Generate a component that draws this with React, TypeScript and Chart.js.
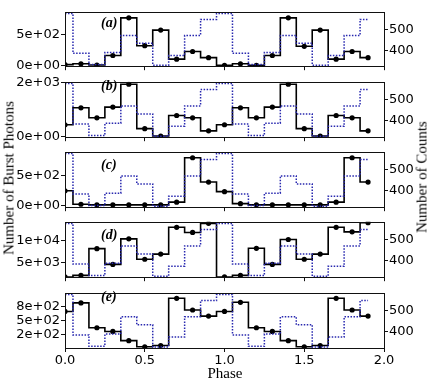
import React, { useEffect, useRef } from "react";
import { Chart, registerables } from "chart.js";
Chart.register(...registerables);

// ---------- data ----------
const phases = [0.0, 0.1, 0.2, 0.3, 0.4, 0.5, 0.6, 0.7, 0.8, 0.9, 1.0, 1.1, 1.2, 1.3, 1.4, 1.5, 1.6, 1.7, 1.8, 1.9];

// Number of counts (blue dotted, right axis) - same profile in every panel
const countsProfile = [577, 385, 331, 389, 471, 433, 328, 375, 471, 548, 577, 385, 331, 389, 471, 433, 328, 375, 471, 548];

// Number of burst photons (black, left axis)
const photonsA = [10, 25, 5, 160, 775, 320, 575, 100, 225, 125, 0, 25, 0, 160, 775, 310, 575, 100, 225, 125];
const photonsB = [450, 1075, 705, 1100, 1945, 305, 35, 790, 705, 225, 450, 1075, 705, 1100, 1945, 305, 35, 790, 705, 225];
const photonsC = [240, 15, 5, 5, 5, 5, 5, 50, 790, 385, 225, 25, 5, 5, 5, 5, 5, 50, 790, 385];
const photonsD = [1790, 2150, 8250, 4650, 10480, 5830, 7000, 13120, 11940, 14020, 1790, 2150, 8330, 4650, 10340, 5830, 7000, 13120, 12080, 14160];
const photonsE = [667, 822, 372, 305, 138, 27, 50, 905, 693, 583, 667, 833, 372, 305, 138, 27, 50, 905, 693, 583];

const panelLabels = ["(a)", "(b)", "(c)", "(d)", "(e)"];

const leftTickValuesA = [0, 500];
const leftTickLabelsA = ["0e+00", "5e+02"];
const leftTickValuesB = [0, 2000];
const leftTickLabelsB = ["0e+00", "2e+03"];
const leftTickValuesC = [0, 500];
const leftTickLabelsC = ["0e+00", "5e+02"];
const leftTickValuesD = [5000, 10000];
const leftTickLabelsD = ["5e+03", "1e+04"];
const leftTickValuesE = [250, 500, 750];
const leftTickLabelsE = ["2e+02", "5e+02", "8e+02"];

const leftMin = [-15, -10, -34, 1730, 5];
const leftMax = [874, 2034, 889, 14375, 1005];

const rightTickValues = [400, 500];
const rightTickLabels = ["400", "500"];
const rightMin = 323;
const rightMax = 585;

const xTickValues = [0, 0.5, 1.0, 1.5, 2.0];
const xTickLabels = ["0.0", "0.5", "1.0", "1.5", "2.0"];

const photonSeries = [photonsA, photonsB, photonsC, photonsD, photonsE];
const leftTickValues = [leftTickValuesA, leftTickValuesB, leftTickValuesC, leftTickValuesD, leftTickValuesE];
const leftTickLabels = [leftTickLabelsA, leftTickLabelsB, leftTickLabelsC, leftTickLabelsD, leftTickLabelsE];

// ---------- layout ----------
const W = 436;
const PLOT_LEFT = 65;
const PLOT_RIGHT = 384;
const PANEL_TOPS = [7, 77, 147, 217, 288];
const PANEL_HEIGHTS = [60, 61, 61, 61, 60];
const PAD_TOP = 4;
const BLUE = "rgb(40,40,175)";
const TICK_FONT = { family: "'DejaVu Sans', sans-serif", size: 13 };
const SERIF = "'Liberation Serif', 'DejaVu Serif', serif";

const framePlugin = {
  id: "frame",
  afterDraw(chart: any) {
    const { ctx, chartArea } = chart;
    ctx.save();
    ctx.strokeStyle = "#111";
    ctx.lineWidth = 1;
    ctx.strokeRect(
      Math.round(chartArea.left) + 0.5,
      Math.round(chartArea.top) + 0.5,
      Math.round(chartArea.right - chartArea.left),
      Math.round(chartArea.bottom - chartArea.top)
    );
    ctx.restore();
  },
};

function Panel({ idx }: { idx: number }) {
  const ref = useRef<HTMLCanvasElement>(null);
  const isLast = idx === 4;
  const xAxisH = isLast ? 40 : 8;
  const canvasH = PAD_TOP + PANEL_HEIGHTS[idx] + xAxisH;
  const canvasTop = PANEL_TOPS[idx] - PAD_TOP;

  useEffect(() => {
    if (!ref.current) return;
    const lv = leftTickValues[idx];
    const ll = leftTickLabels[idx];
    const series = photonSeries[idx];
    const chart = new Chart(ref.current, {
      type: "line",
      data: {
        datasets: [
          {
            data: phases.map((x, i) => ({ x, y: countsProfile[i] })),
            yAxisID: "y1",
            stepped: "middle",
            borderColor: BLUE,
            borderWidth: 1.5,
            borderDash: [1.5, 1.5],
            pointRadius: 0,
            fill: false,
          },
          {
            data: phases.map((x, i) => ({ x, y: series[i] })),
            yAxisID: "y",
            stepped: "middle",
            borderColor: "#000",
            borderWidth: 1.6,
            pointRadius: 2.6,
            pointBackgroundColor: "#000",
            pointBorderColor: "#000",
            pointBorderWidth: 0,
            fill: false,
          },
        ],
      } as any,
      options: {
        animation: false,
        responsive: false,
        maintainAspectRatio: false,
        devicePixelRatio: 1,
        layout: { padding: { top: PAD_TOP, left: 0, right: 0, bottom: 0 } },
        plugins: { legend: { display: false }, tooltip: { enabled: false } },
        scales: {
          x: {
            type: "linear",
            position: "bottom",
            min: 0,
            max: 2,
            afterBuildTicks: (s: any) => {
              s.ticks = xTickValues.map((v) => ({ value: v }));
            },
            afterFit: (s: any) => {
              s.height = xAxisH;
            },
            grid: { drawOnChartArea: false, drawTicks: true, tickLength: 4, tickColor: "#111", tickWidth: 1 },
            border: { display: false },
            ticks: {
              display: isLast,
              font: TICK_FONT,
              color: "#000",
              padding: 1,
              maxRotation: 0,
              autoSkip: false,
              callback: (v: any) => xTickLabels[xTickValues.indexOf(Number(v))] ?? "",
            },
          },
          y: {
            type: "linear",
            position: "left",
            min: leftMin[idx],
            max: leftMax[idx],
            afterBuildTicks: (s: any) => {
              s.ticks = lv.map((v) => ({ value: v }));
            },
            afterFit: (s: any) => {
              s.width = PLOT_LEFT;
            },
            grid: { drawOnChartArea: false, drawTicks: true, tickLength: 4, tickColor: "#111", tickWidth: 1 },
            border: { display: false },
            ticks: {
              font: TICK_FONT,
              color: "#000",
              padding: 1,
              autoSkip: false,
              callback: (v: any) => ll[lv.indexOf(Number(v))] ?? "",
            },
          },
          y1: {
            type: "linear",
            position: "right",
            min: rightMin,
            max: rightMax,
            afterBuildTicks: (s: any) => {
              s.ticks = rightTickValues.map((v) => ({ value: v }));
            },
            afterFit: (s: any) => {
              s.width = W - PLOT_RIGHT;
            },
            grid: { drawOnChartArea: false, drawTicks: true, tickLength: 4, tickColor: "#111", tickWidth: 1 },
            border: { display: false },
            ticks: {
              font: TICK_FONT,
              color: "#000",
              padding: 1,
              autoSkip: false,
              callback: (v: any) => rightTickLabels[rightTickValues.indexOf(Number(v))] ?? "",
            },
          },
        },
      } as any,
      plugins: [framePlugin],
    });
    return () => chart.destroy();
  }, [idx]);

  return (
    <canvas
      ref={ref}
      width={W}
      height={canvasH}
      style={{ position: "absolute", left: 0, top: canvasTop, width: W, height: canvasH }}
    />
  );
}

const panelLabelY = [23, 86, 165, 235, 297];

export default function App() {
  return (
    <div style={{ position: "absolute", left: 0, top: 0, width: W, height: 388, background: "#fff", overflow: "hidden" }}>
      {[0, 1, 2, 3, 4].map((i) => (
        <Panel key={i} idx={i} />
      ))}
      {panelLabels.map((t, i) => (
        <div
          key={t}
          style={{
            position: "absolute",
            left: 101,
            top: panelLabelY[i],
            transform: "translateY(-50%)",
            fontFamily: SERIF,
            fontStyle: "italic",
            fontWeight: "bold",
            fontSize: 14,
            lineHeight: 1,
            color: "#000",
            whiteSpace: "nowrap",
          }}
        >
          {t}
        </div>
      ))}
      <div
        style={{
          position: "absolute",
          left: 9,
          top: 178,
          transform: "translate(-50%, -50%) rotate(-90deg)",
          fontFamily: SERIF,
          fontSize: 15,
          lineHeight: 1,
          whiteSpace: "nowrap",
          color: "#000",
        }}
      >
        Number of Burst Photons
      </div>
      <div
        style={{
          position: "absolute",
          left: 422,
          top: 177,
          transform: "translate(-50%, -50%) rotate(-90deg)",
          fontFamily: SERIF,
          fontSize: 15,
          lineHeight: 1,
          whiteSpace: "nowrap",
          color: "#000",
        }}
      >
        Number of Counts
      </div>
      <div
        style={{
          position: "absolute",
          left: 225,
          top: 373,
          transform: "translate(-50%, -50%)",
          fontFamily: SERIF,
          fontSize: 15,
          lineHeight: 1,
          whiteSpace: "nowrap",
          color: "#000",
        }}
      >
        Phase
      </div>
    </div>
  );
}
